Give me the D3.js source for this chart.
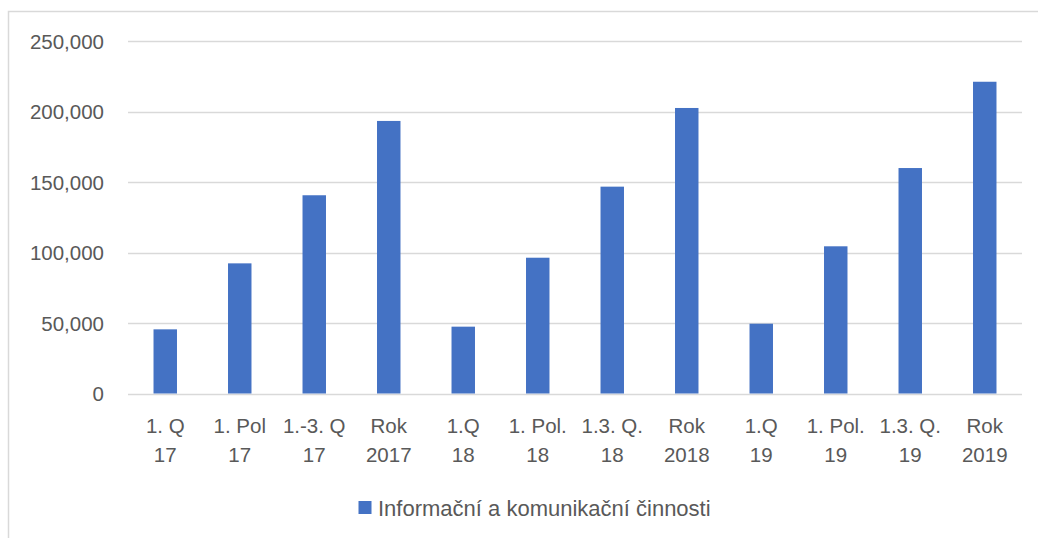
<!DOCTYPE html>
<html>
<head>
<meta charset="utf-8">
<script src="https://cdn.jsdelivr.net/npm/d3@7"></script>
<style>
  html, body { margin: 0; padding: 0; background: #ffffff; }
  svg { display: block; }
  text { font-family: "Liberation Sans", Arial, sans-serif; fill: #595959; }
</style>
</head>
<body>
<svg id="chart" width="1038" height="538"></svg>
<script>
// Data
const categories = [
  ["1. Q", "17"], ["1. Pol", "17"], ["1.-3. Q", "17"], ["Rok", "2017"],
  ["1.Q", "18"], ["1. Pol.", "18"], ["1.3. Q.", "18"], ["Rok", "2018"],
  ["1.Q", "19"], ["1. Pol.", "19"], ["1.3. Q.", "19"], ["Rok", "2019"]
];
const values = [45500, 92300, 140600, 193300, 47400, 96300, 146700, 202500, 49500, 104400, 159900, 221100];
const yTicks = [0, 50000, 100000, 150000, 200000, 250000];
const seriesName = "Informační a komunikační činnosti";

(function () {
const svg = d3.select("#chart");
const W = 1038, H = 538;
const plotLeft = 128, plotRight = 1022, plotTop = 41, plotBottom = 393.5;
const fontSize = 20.5;

// Outer border (top & left visible)
svg.append("rect")
  .attr("x", 8.5).attr("y", 11.5)
  .attr("width", W + 10).attr("height", H + 10)
  .attr("fill", "none").attr("stroke", "#d9d9d9").attr("stroke-width", 1.5);

const x = d3.scaleBand()
  .domain(d3.range(categories.length))
  .range([plotLeft, plotRight])
  .paddingInner(0.685)
  .paddingOuter(0.3425);

const y = d3.scaleLinear().domain([0, 250000]).range([plotBottom, plotTop]);

// Gridlines
svg.append("g").selectAll("line").data(yTicks).join("line")
  .attr("x1", plotLeft).attr("x2", plotRight)
  .attr("y1", d => Math.round(y(d)) + 0.5).attr("y2", d => Math.round(y(d)) + 0.5)
  .attr("stroke", "#d9d9d9").attr("stroke-width", 1.3);

// Y axis labels
const fmt = d3.format(",");
const yAxis = d3.axisLeft(y).tickValues(yTicks).tickSize(0).tickPadding(0).tickFormat(d => fmt(d));
const yg = svg.append("g").attr("transform", "translate(104,0)").call(yAxis);
yg.select(".domain").remove();
yg.selectAll("text")
  .attr("font-size", fontSize)
  .attr("font-family", "Liberation Sans, Arial, sans-serif")
  .attr("fill", "#595959")
  .attr("dy", "0.35em")
  .attr("x", 0);

// Bars
svg.append("g").selectAll("rect").data(values).join("rect")
  .attr("x", (d, i) => x(i))
  .attr("width", x.bandwidth())
  .attr("y", d => y(d))
  .attr("height", d => y(0) - y(d))
  .attr("fill", "#4472c4");

// X labels (two lines)
const xg = svg.append("g");
categories.forEach((c, i) => {
  const cx = x(i) + x.bandwidth() / 2;
  const t = xg.append("text")
    .attr("text-anchor", "middle")
    .attr("font-size", fontSize);
  t.append("tspan").attr("x", cx).attr("y", 433).text(c[0]);
  t.append("tspan").attr("x", cx).attr("y", 462).text(c[1]);
});

// Legend
const lg = svg.append("g");
lg.append("rect").attr("x", 358.5).attr("y", 501).attr("width", 13).attr("height", 13).attr("fill", "#4472c4");
lg.append("text").attr("x", 378).attr("y", 508).attr("dy", "0.35em")
  .attr("font-size", 22).text(seriesName);
})();
</script>
</body>
</html>
